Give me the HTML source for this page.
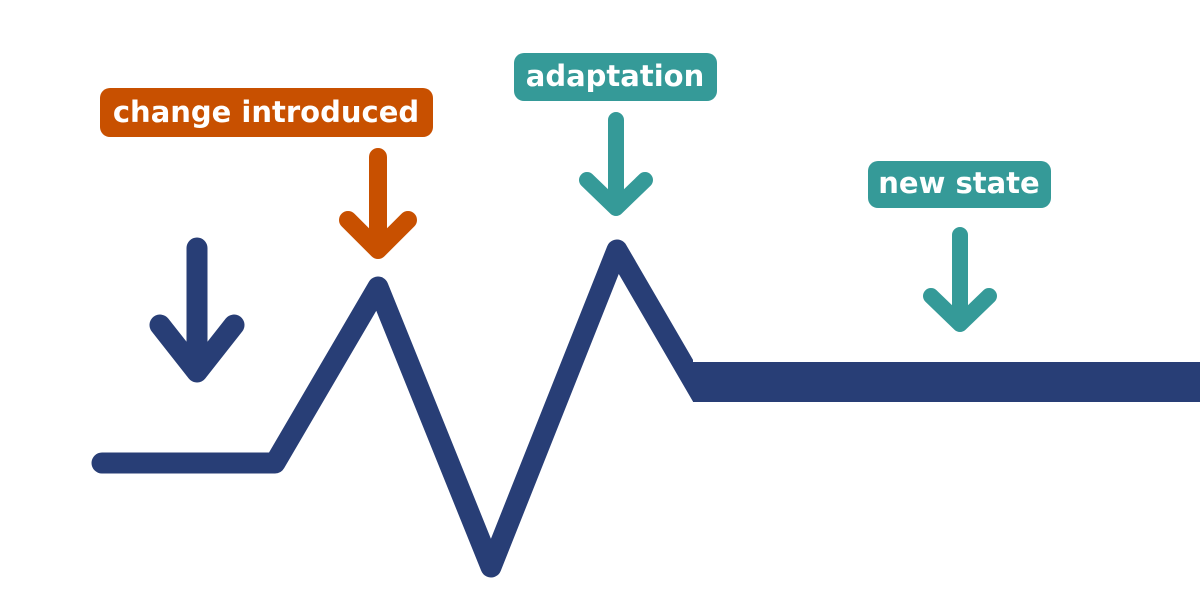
<!DOCTYPE html>
<html><head><style>
html,body{margin:0;padding:0;background:#fff;}
svg{display:block;}
text{font-family:"DejaVu Sans","Liberation Sans",sans-serif;font-weight:bold;fill:#fff;}
</style></head><body>
<svg width="1200" height="600" viewBox="0 0 1200 600">
<defs><clipPath id="c"><rect x="0" y="0" width="693" height="600"/></clipPath></defs>
<rect x="100" y="88" width="333" height="49" rx="10" fill="#c85000"/>
<text x="266" y="122" font-size="29" text-anchor="middle">change introduced</text>
<rect x="514" y="53" width="203" height="48" rx="10" fill="#359a98"/>
<text x="615" y="86" font-size="29" text-anchor="middle">adaptation</text>
<rect x="868" y="161" width="183" height="47" rx="10" fill="#359a98"/>
<text x="959" y="193" font-size="29" text-anchor="middle">new state</text>
<g fill="none" stroke-linecap="round" stroke-linejoin="round">
<path d="M197 248 V370 M160 325 L197 372 L234 325" stroke="#283e76" stroke-width="21"/>
<path d="M378 157 V245 M348 220 L378 250 L408 220" stroke="#c85000" stroke-width="18"/>
<path d="M616 120 V205 M587 180 L616 208 L645 180" stroke="#359a98" stroke-width="16"/>
<path d="M960 235 V320 M931 296 L960 324 L989 296" stroke="#359a98" stroke-width="16"/>
</g>
<path clip-path="url(#c)" d="M102 463 L275 463 L378 287 L491 567 L617 250 L710 410" fill="none" stroke="#283e76" stroke-width="21" stroke-linecap="round" stroke-linejoin="round"/>
<rect x="693" y="362" width="507" height="40" fill="#283e76"/>
</svg>
</body></html>
